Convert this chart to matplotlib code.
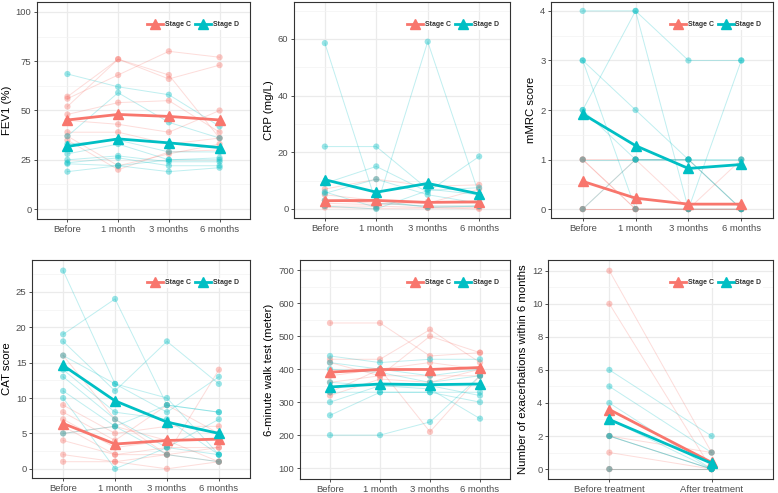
import matplotlib
matplotlib.use('Agg')
import matplotlib.pyplot as plt
from matplotlib.lines import Line2D
from matplotlib.ticker import MultipleLocator

plt.rcParams['font.family'] = ['Liberation Sans', 'DejaVu Sans']

time_labels = ['Before', '1 month', '3 months', '6 months']
exac_labels = ['Before treatment', 'After treatment']
stage_names = ['Stage C', 'Stage D']

# ---- FEV1 (%) ----
fev1_c = [[57, 76, 66, 73], [56, 68, 80, 77], [52, 76, 68, 36], [48, 54, 55, 39],
          [45, 43, 39, 50], [39, 39, 33, 36], [37, 22, 28, 33], [35, 20, 29, 30]]
fev1_d = [[68.5, 62, 58, 42], [37, 59, 44, 36], [33, 35, 29, 29], [28, 33, 25, 26],
          [25, 27, 24, 24], [23.5, 26, 22, 22], [23, 22, 19, 21], [19, 22, 25, 25]]
fev1_mean_c = [45.2, 48.0, 47.0, 45.2]
fev1_mean_d = [31.8, 35.6, 33.6, 31.2]

# ---- CRP (mg/L) ----
crp_c = [[7, 10.5, 8, 8.5], [5, 3, 2, 7], [3, 2, 1, 1], [1, 1, 0.5, 0],
         [0.5, 0.2, 0.3, 0.5], [2, 1.5, 2.5, 2]]
crp_d = [[58.5, 2, 1, 1], [22, 22, 7, 5], [9, 15, 6, 18.5], [6, 0.5, 59, 5],
         [5.5, 10.5, 5, 2], [3, 3, 0.5, 1], [1, 0, 6.5, 7.5]]
crp_mean_c = [2.9, 3.0, 2.3, 2.5]
crp_mean_d = [10.3, 5.9, 9.0, 5.3]

# ---- mMRC score ----
mmrc_c = [[1, 0, 0, 0], [1, 0, 0, 1], [0, 1, 0, 0], [0, 0, 0, 0], [0, 0, 0, 0], [1, 1, 1, 0]]
mmrc_d = [[4, 4, 3, 3], [3, 2, 1, 0], [3, 0, 0, 3], [2, 1, 1, 1], [2, 4, 0, 0],
          [1, 1, 1, 1], [0, 1, 1, 0]]
mmrc_mean_c = [0.56, 0.22, 0.1, 0.1]
mmrc_mean_d = [1.92, 1.28, 0.82, 0.9]

# ---- CAT score ----
cat_c = [[16, 7, 2, 14], [9, 5, 6, 6], [8, 4, 9, 5], [7, 3, 4, 4], [6, 2, 2, 3],
         [5, 6, 4, 1], [4, 2, 3, 3], [2, 1, 0, 1], [1, 1, 2, 1]]
cat_d = [[28, 12, 10, 2], [19, 24, 9, 8], [18, 11, 18, 12], [16, 12, 8, 13],
         [14, 8, 7, 2], [13, 7, 3, 7], [11, 6, 2, 1], [10, 0, 3, 2], [5, 6, 9, 8]]
cat_mean_c = [6.4, 3.5, 4.0, 4.2]
cat_mean_d = [14.6, 9.6, 6.6, 5.0]

# ---- 6-minute walk test (meter) ----
walk_c = [[540, 540, 440, 450], [430, 430, 520, 420], [420, 380, 500, 450],
          [380, 400, 420, 400], [360, 380, 380, 380], [330, 400, 210, 380],
          [320, 370, 360, 400]]
walk_d = [[440, 420, 430, 430], [420, 400, 380, 400], [400, 390, 360, 380],
          [360, 350, 350, 320], [330, 330, 330, 300], [300, 350, 340, 250],
          [260, 330, 330, 330], [200, 200, 240, 380]]
walk_mean_c = [391, 399, 399, 405]
walk_mean_d = [346, 355, 353, 355]

# ---- Exacerbations within 6 months ----
exac_c = [[12, 1], [10, 0], [2, 0], [2, 1], [1, 0], [0, 0], [0, 0]]
exac_d = [[6, 2], [5, 1], [4, 0], [2, 0], [2, 0], [3, 0], [0, 0]]
exac_mean_c = [3.6, 0.4]
exac_mean_d = [3.0, 0.35]

COL_C = '#F8766D'
COL_D = '#00BFC4'

W, H = 778, 493
fig = plt.figure(figsize=(W / 100, H / 100), dpi=100)

panels = [
    dict(ylabel='FEV1 (%)', c=fev1_c, d=fev1_d, mc=fev1_mean_c, md=fev1_mean_d,
         ylim=(-5, 105), major=25, minor=12.5, labels=time_labels, box=(37, 250, 2, 219)),
    dict(ylabel='CRP (mg/L)', c=crp_c, d=crp_d, mc=crp_mean_c, md=crp_mean_d,
         ylim=(-3.2, 73), major=20, minor=10, labels=time_labels, box=(294, 510, 2, 218)),
    dict(ylabel='mMRC score', c=mmrc_c, d=mmrc_d, mc=mmrc_mean_c, md=mmrc_mean_d,
         ylim=(-0.18, 4.18), major=1, minor=0.5, labels=time_labels, box=(551, 773, 2, 218)),
    dict(ylabel='CAT score', c=cat_c, d=cat_d, mc=cat_mean_c, md=cat_mean_d,
         ylim=(-1.3, 29.5), major=5, minor=2.5, labels=time_labels, box=(32, 250, 260, 478)),
    dict(ylabel='6-minute walk test (meter)', c=walk_c, d=walk_d, mc=walk_mean_c, md=walk_mean_d,
         ylim=(67, 731), major=100, minor=50, labels=time_labels, box=(300, 510, 260, 479)),
    dict(ylabel='Number of exacerbations within 6 months', c=exac_c, d=exac_d,
         mc=exac_mean_c, md=exac_mean_d, ylim=(-0.6, 12.65), major=2, minor=1,
         labels=exac_labels, box=(548, 773, 260, 479)),
]

for p in panels:
    l, r, t, b = p['box']
    ax = fig.add_axes([l / W, 1 - b / H, (r - l) / W, (b - t) / H])
    n = len(p['labels'])
    xs = list(range(n))
    for group, col in ((p['c'], COL_C), (p['d'], COL_D)):
        for vals in group:
            ax.plot(xs, vals, color=col, lw=0.7, alpha=0.25, zorder=2)
            ax.scatter(xs, vals, s=20, color=col, alpha=0.4, edgecolors='none', zorder=3)
    ax.plot(xs, p['mc'], color=COL_C, lw=2.0, marker='^', ms=7, zorder=5)
    ax.plot(xs, p['md'], color=COL_D, lw=2.0, marker='^', ms=7, zorder=5)

    ax.set_xlim(-0.6, n - 1 + 0.6)
    ax.set_ylim(*p['ylim'])
    ax.set_xticks(xs)
    ax.set_xticklabels(p['labels'])
    ax.yaxis.set_major_locator(MultipleLocator(p['major']))
    ax.yaxis.set_minor_locator(MultipleLocator(p['minor']))
    ax.set_axisbelow(True)
    ax.grid(which='major', color='#EBEBEB', lw=0.9)
    ax.grid(which='minor', axis='y', color='#F3F3F3', lw=0.5)
    for s in ax.spines.values():
        s.set_color('#333333')
        s.set_linewidth(0.8)
    ax.tick_params(which='major', length=2.5, width=0.6, color='#333333',
                   labelsize=6.8, labelcolor='#4D4D4D', pad=1.5)
    ax.tick_params(which='minor', length=0)
    ax.set_ylabel(p['ylabel'], fontsize=8.2, color='black', labelpad=3)

    handles = [Line2D([0], [0], color=COL_C, lw=2, marker='^', ms=6.5),
               Line2D([0], [0], color=COL_D, lw=2, marker='^', ms=6.5)]
    leg = ax.legend(handles, stage_names, loc='center right', bbox_to_anchor=(0.97, 0.895),
                    ncol=2, fontsize=5.0, frameon=True, facecolor='white', edgecolor='none',
                    framealpha=1, handlelength=2.3, handletextpad=0.25, columnspacing=0.6,
                    borderpad=0.2, fancybox=False)
    for txt in leg.get_texts():
        txt.set_fontweight('bold')
        txt.set_color('#333333')
    leg.set_zorder(10)

fig.savefig('out.png', dpi=100)
